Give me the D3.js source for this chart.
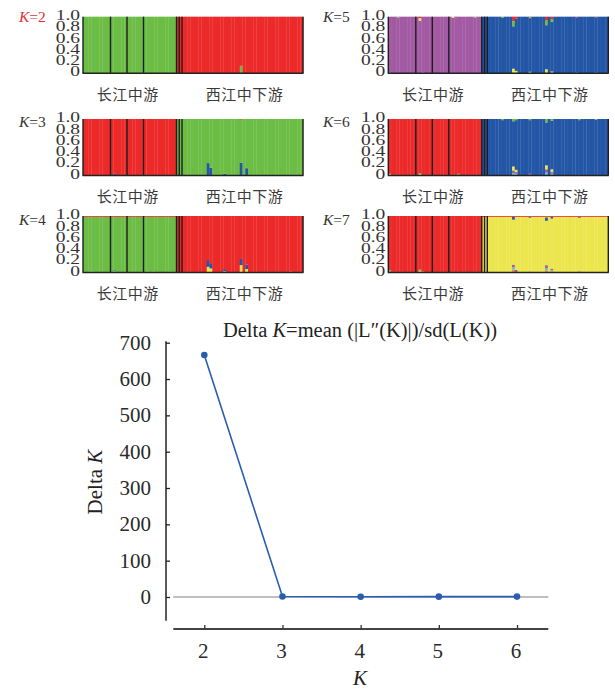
<!DOCTYPE html>
<html>
<head>
<meta charset="utf-8">
<script src="https://cdn.jsdelivr.net/npm/d3@7/dist/d3.min.js"></script>
<style>
  body { margin: 0; background: #fff; }
  text { font-family: "Liberation Serif", "DejaVu Serif", serif; }
  .cjk { font-family: "Noto Sans CJK SC", sans-serif; }
</style>
</head>
<body>
<div id="chart"></div>
<script>
// individuals per population (4 pops 长江中游, 2 tiny pops, 1 large 西江中下游 pop)
const popSizes = [10, 6, 6, 12, 1, 1, 44];
const popGroup = [0, 0, 0, 0, 1, 1, 1];
const groupNames = ['长江中游', '西江中下游'];

const panelK = [2, 3, 4, 5, 6, 7];
const mainGroup0 = ['green', 'red', 'green', 'purple', 'red', 'red'];
const mainGroup1 = ['red', 'green', 'red', 'blue', 'blue', 'yellow'];

const clusterColors = {
  green: '#6cbd45', red: '#ec2a2a', blue: '#2456a6', purple: '#a25aa2',
  yellow: '#ebe64e', cyan: '#5ac4d4', orange: '#f08c36'
};

// [individual, cluster, proportion, side] side b = from bottom, t = from top
const admixK2 = [[57, 'green', 0.13, 'b']];
const admixK3 = [
  [11, 'blue', 0.03, 'b'], [45, 'blue', 0.22, 'b'], [46, 'blue', 0.14, 'b'],
  [51, 'blue', 0.03, 'b'], [57, 'blue', 0.23, 'b'], [59, 'blue', 0.13, 'b'],
  [57, 'red', 0.012, 't']
];
const admixK4 = [
  [2, 'blue', 0.015, 'b'], [3, 'blue', 0.015, 'b'],
  [11, 'yellow', 0.02, 'b'], [11, 'blue', 0.02, 'b'],
  [23, 'red', 0.015, 'b'], [25, 'red', 0.015, 'b'], [31, 'blue', 0.015, 'b'],
  [39, 'blue', 0.01, 'b'],
  [45, 'yellow', 0.1, 'b'], [45, 'blue', 0.12, 'b'],
  [46, 'yellow', 0.07, 'b'], [46, 'blue', 0.08, 'b'],
  [51, 'yellow', 0.02, 'b'], [51, 'blue', 0.04, 'b'],
  [57, 'yellow', 0.13, 'b'], [57, 'blue', 0.11, 'b'],
  [59, 'yellow', 0.06, 'b'], [59, 'blue', 0.08, 'b'],
  [68, 'blue', 0.01, 'b'], [75, 'green', 0.015, 'b']
];
const admixK5 = [
  [0, 'blue', 0.01, 'b'], [3, 'green', 0.015, 't'],
  [11, 'red', 0.03, 't'], [11, 'yellow', 0.04, 't'], [12, 'green', 0.01, 'b'],
  [23, 'yellow', 0.02, 't'], [24, 'blue', 0.015, 't'], [24, 'red', 0.01, 't'],
  [31, 'green', 0.015, 't'], [41, 'green', 0.015, 't'],
  [45, 'red', 0.08, 't'], [45, 'green', 0.09, 't'], [45, 'yellow', 0.08, 'b'],
  [46, 'red', 0.03, 't'], [46, 'yellow', 0.04, 'b'],
  [51, 'red', 0.01, 't'], [51, 'green', 0.015, 't'], [51, 'yellow', 0.025, 'b'],
  [57, 'red', 0.07, 't'], [57, 'green', 0.08, 't'], [57, 'yellow', 0.07, 'b'],
  [59, 'red', 0.04, 't'], [59, 'green', 0.05, 't'], [59, 'yellow', 0.03, 'b'],
  [68, 'red', 0.01, 't'], [68, 'green', 0.01, 'b'],
  [75, 'red', 0.01, 't'], [75, 'green', 0.01, 'b']
];
const admixK6 = [
  [0, 'yellow', 0.02, 'b'], [0, 'green', 0.01, 'b'],
  [2, 'green', 0.01, 'b'], [3, 'green', 0.01, 'b'],
  [11, 'yellow', 0.02, 'b'], [11, 'green', 0.02, 'b'],
  [23, 'yellow', 0.01, 'b'], [25, 'green', 0.03, 'b'],
  [41, 'green', 0.02, 't'],
  [45, 'green', 0.04, 't'], [45, 'cyan', 0.04, 'b'], [45, 'purple', 0.05, 'b'], [45, 'yellow', 0.07, 'b'],
  [46, 'green', 0.02, 't'], [46, 'cyan', 0.03, 'b'], [46, 'purple', 0.03, 'b'], [46, 'yellow', 0.04, 'b'],
  [51, 'green', 0.02, 't'], [51, 'purple', 0.03, 'b'],
  [57, 'green', 0.06, 't'], [57, 'cyan', 0.05, 'b'], [57, 'purple', 0.06, 'b'], [57, 'yellow', 0.07, 'b'],
  [59, 'green', 0.03, 't'], [59, 'cyan', 0.03, 'b'], [59, 'purple', 0.03, 'b'], [59, 'yellow', 0.05, 'b'],
  [69, 'green', 0.02, 't'], [69, 'green', 0.01, 'b'], [75, 'green', 0.01, 't']
];
const admixK7 = [
  [0, 'green', 0.04, 'b'], [1, 'blue', 0.01, 'b'], [2, 'blue', 0.01, 'b'], [4, 'blue', 0.01, 'b'],
  [11, 'yellow', 0.03, 'b'], [11, 'green', 0.02, 'b'], [12, 'green', 0.015, 'b'],
  [23, 'blue', 0.01, 'b'], [25, 'blue', 0.01, 'b'], [27, 'blue', 0.01, 'b'], [31, 'blue', 0.01, 'b'],
  [41, 'blue', 0.01, 'b'],
  [45, 'blue', 0.05, 't'], [45, 'orange', 0.05, 'b'], [45, 'cyan', 0.04, 'b'], [45, 'purple', 0.05, 'b'],
  [46, 'purple', 0.05, 'b'],
  [51, 'blue', 0.015, 't'], [51, 'cyan', 0.02, 'b'],
  [57, 'green', 0.02, 't'], [57, 'blue', 0.05, 't'], [57, 'orange', 0.04, 'b'], [57, 'cyan', 0.04, 'b'], [57, 'purple', 0.05, 'b'],
  [59, 'blue', 0.03, 't'], [59, 'orange', 0.02, 'b'], [59, 'cyan', 0.02, 'b'], [59, 'purple', 0.03, 'b'],
  [69, 'blue', 0.015, 't'], [69, 'purple', 0.02, 'b']
];
const admixByPanel = [admixK2, admixK3, admixK4, admixK5, admixK6, admixK7];

// thin trace of another cluster on top of a whole group: [K, group, cluster, q]
const topTrace = [[4, 0, 'red', 0.015], [7, 1, 'red', 0.015]];

const structTicks = [0, 0.2, 0.4, 0.6, 0.8, 1.0];
const structTickLabels = ['0', '0.2', '0.4', '0.6', '0.8', '1.0'];

// Delta K (Evanno)
const deltaK = [2, 3, 4, 5, 6];
const deltaVal = [666, 1.2, 0.5, 0.9, 1.1];
const deltaTicks = [0, 100, 200, 300, 400, 500, 600, 700];

const W = 615, H = 691;
const svg = d3.select('#chart').append('svg').attr('width', W).attr('height', H);
svg.append('rect').attr('width', W).attr('height', H).attr('fill', '#fff');

// ---------- structure panels ----------
const nInd = d3.sum(popSizes);
const indGroup = [];
popSizes.forEach((n, p) => { for (let j = 0; j < n; j++) indGroup.push(popGroup[p]); });
const popStarts = d3.cumsum([0].concat(popSizes)); // boundaries

const colX = [83, 388.3], rowTop = [16.7, 119, 216], kBase = [21.7, 127, 225];
const pw = 220, ph = 56.5;

const x = d3.scaleBand().domain(d3.range(nInd)).range([0, pw]).padding(0);
const y = d3.scaleLinear().domain([0, 1]).range([ph, 0]);

panelK.forEach((K, pi) => {
  const col = pi < 3 ? 0 : 1, row = pi % 3;
  const g = svg.append('g').attr('transform', `translate(${colX[col]},${rowTop[row]})`);
  const mains = [mainGroup0[pi], mainGroup1[pi]];
  const adm = admixByPanel[pi];

  // build stacked segments per individual
  const segs = [];
  d3.range(nInd).forEach(i => {
    const grp = indGroup[i];
    const bottom = adm.filter(a => a[0] === i && a[3] === 'b');
    const top = adm.filter(a => a[0] === i && a[3] === 't');
    topTrace.filter(t => t[0] === K && t[1] === grp).forEach(t => top.unshift([i, t[2], t[3], 't']));
    let y0 = 0;
    bottom.forEach(a => { segs.push({ i, c: a[1], y0, y1: y0 + a[2] }); y0 += a[2]; });
    const topSum = d3.sum(top, a => a[2]);
    segs.push({ i, c: mains[grp], y0, y1: 1 - topSum });
    let y1 = 1;
    top.forEach(a => { segs.push({ i, c: a[1], y0: y1 - a[2], y1 }); y1 -= a[2]; });
  });

  g.selectAll('rect.seg').data(segs).enter().append('rect')
    .attr('class', 'seg')
    .attr('x', d => x(d.i))
    .attr('width', x.bandwidth() + 0.3)
    .attr('y', d => y(d.y1))
    .attr('height', d => Math.max(0, y(d.y0) - y(d.y1)))
    .attr('fill', d => clusterColors[d.c]);

  // population separators and frame
  g.selectAll('line.sep').data(popStarts).enter().append('line')
    .attr('class', 'sep')
    .attr('x1', d => d === nInd ? pw : (d === 0 ? 0 : x(d)))
    .attr('x2', d => d === nInd ? pw : (d === 0 ? 0 : x(d)))
    .attr('y1', 0).attr('y2', ph)
    .attr('stroke', '#1e1e1e').attr('stroke-width', 1.4);
  g.append('line').attr('x1', -0.5).attr('x2', pw + 0.5).attr('y1', ph).attr('y2', ph)
    .attr('stroke', '#222').attr('stroke-width', 1.6);

  // y tick labels (stretched wide like the reference)
  g.selectAll('text.tick').data(structTicks).enter().append('text')
    .attr('class', 'tick')
    .attr('transform', d => `translate(-3,${y(d) - 1.5}) scale(1.3,1)`)
    .attr('text-anchor', 'end')
    .attr('dominant-baseline', 'central')
    .attr('font-size', 15)
    .attr('fill', '#333')
    .text((d, i) => structTickLabels[i]);

  // K label
  const kl = svg.append('text')
    .attr('x', col === 0 ? 19 : 323)
    .attr('y', kBase[row])
    .attr('font-size', 15.5)
    .attr('fill', K === 2 ? '#e2312f' : '#333');
  kl.append('tspan').attr('font-style', 'italic').text('K');
  kl.append('tspan').text('=' + K);

  // group labels
  const groupCenter = [
    (x(0) + x(popStarts[4] - 1) + x.bandwidth()) / 2 - 2,
    (x(popStarts[6]) + pw) / 2 + 2
  ];
  g.selectAll('text.grp').data(groupNames).enter().append('text')
    .attr('class', 'grp cjk')
    .attr('x', (d, i) => groupCenter[i])
    .attr('y', ph + 20)
    .attr('text-anchor', 'middle')
    .attr('dominant-baseline', 'central')
    .attr('font-size', 15)
    .attr('letter-spacing', 0.5)
    .attr('fill', '#3a3a3a')
    .text(d => d);
});

// ---------- Delta K line chart ----------
const xs = d3.scaleLinear().domain([2, 6]).range([204.3, 517]);
const ys = d3.scaleLinear().domain([0, 700]).range([597, 342.7]);
const xLo = xs.invert(173.3), xHi = xs.invert(548.3), yLo = ys.invert(620.7);

// zero line
svg.append('line')
  .attr('x1', xs(xLo)).attr('x2', xs(xHi))
  .attr('y1', ys(0)).attr('y2', ys(0))
  .attr('stroke', '#aaa').attr('stroke-width', 1.4);

// y axis
const yAxis = d3.axisRight(ys).tickValues(deltaTicks).tickSize(4).tickFormat('');
const gy = svg.append('g').attr('transform', 'translate(166,0)').call(yAxis);
gy.select('.domain').attr('d', `M0,${ys(700) - 1.5}V${ys(yLo)}`).attr('stroke', '#222').attr('stroke-width', 1.5);
gy.selectAll('.tick line').attr('stroke', '#222').attr('stroke-width', 1.3);
svg.selectAll('text.ytl').data(deltaTicks).enter().append('text')
  .attr('class', 'ytl')
  .attr('x', 151)
  .attr('y', d => ys(d))
  .attr('text-anchor', 'end')
  .attr('dominant-baseline', 'central')
  .attr('font-size', 21)
  .attr('fill', '#2a2a2a')
  .text(d => d);

// x axis
const xAxis = d3.axisTop(xs).tickValues(deltaK).tickSize(4).tickFormat('');
const gx = svg.append('g').attr('transform', 'translate(0,629)').call(xAxis);
gx.select('.domain').attr('d', `M${xs(xLo)},0H${xs(xHi)}`).attr('stroke', '#444').attr('stroke-width', 2);
gx.selectAll('.tick line').attr('stroke', '#333').attr('stroke-width', 1.3);
svg.selectAll('text.xtl').data(deltaK).enter().append('text')
  .attr('class', 'xtl')
  .attr('x', d => xs(d) - 1)
  .attr('y', 651)
  .attr('text-anchor', 'middle')
  .attr('dominant-baseline', 'central')
  .attr('font-size', 21)
  .attr('fill', '#2a2a2a')
  .text(d => d);

// line + points
const line = d3.line().x((d, i) => xs(deltaK[i])).y(d => ys(d));
svg.append('path').datum(deltaVal)
  .attr('d', line)
  .attr('fill', 'none')
  .attr('stroke', '#2a5db2')
  .attr('stroke-width', 1.6);
svg.selectAll('circle.pt').data(deltaVal).enter().append('circle')
  .attr('class', 'pt')
  .attr('cx', (d, i) => xs(deltaK[i]))
  .attr('cy', d => ys(d))
  .attr('r', 3.3)
  .attr('fill', '#2a5db2');

// title
const title = svg.append('text')
  .attr('x', 360).attr('y', 337)
  .attr('text-anchor', 'middle')
  .attr('font-size', 20.5)
  .attr('fill', '#222');
title.append('tspan').text('Delta ');
title.append('tspan').attr('font-style', 'italic').text('K');
title.append('tspan').text('=mean (|L\u2033(K)|)/sd(L(K))');

// axis titles
svg.append('text')
  .attr('x', 360).attr('y', 685)
  .attr('text-anchor', 'middle')
  .attr('font-size', 21)
  .attr('font-style', 'italic')
  .attr('fill', '#222')
  .text('K');

const yl = svg.append('text')
  .attr('transform', 'translate(102,482) rotate(-90)')
  .attr('text-anchor', 'middle')
  .attr('font-size', 21)
  .attr('fill', '#222');
yl.append('tspan').text('Delta ');
yl.append('tspan').attr('font-style', 'italic').text('K');
</script>
</body>
</html>
